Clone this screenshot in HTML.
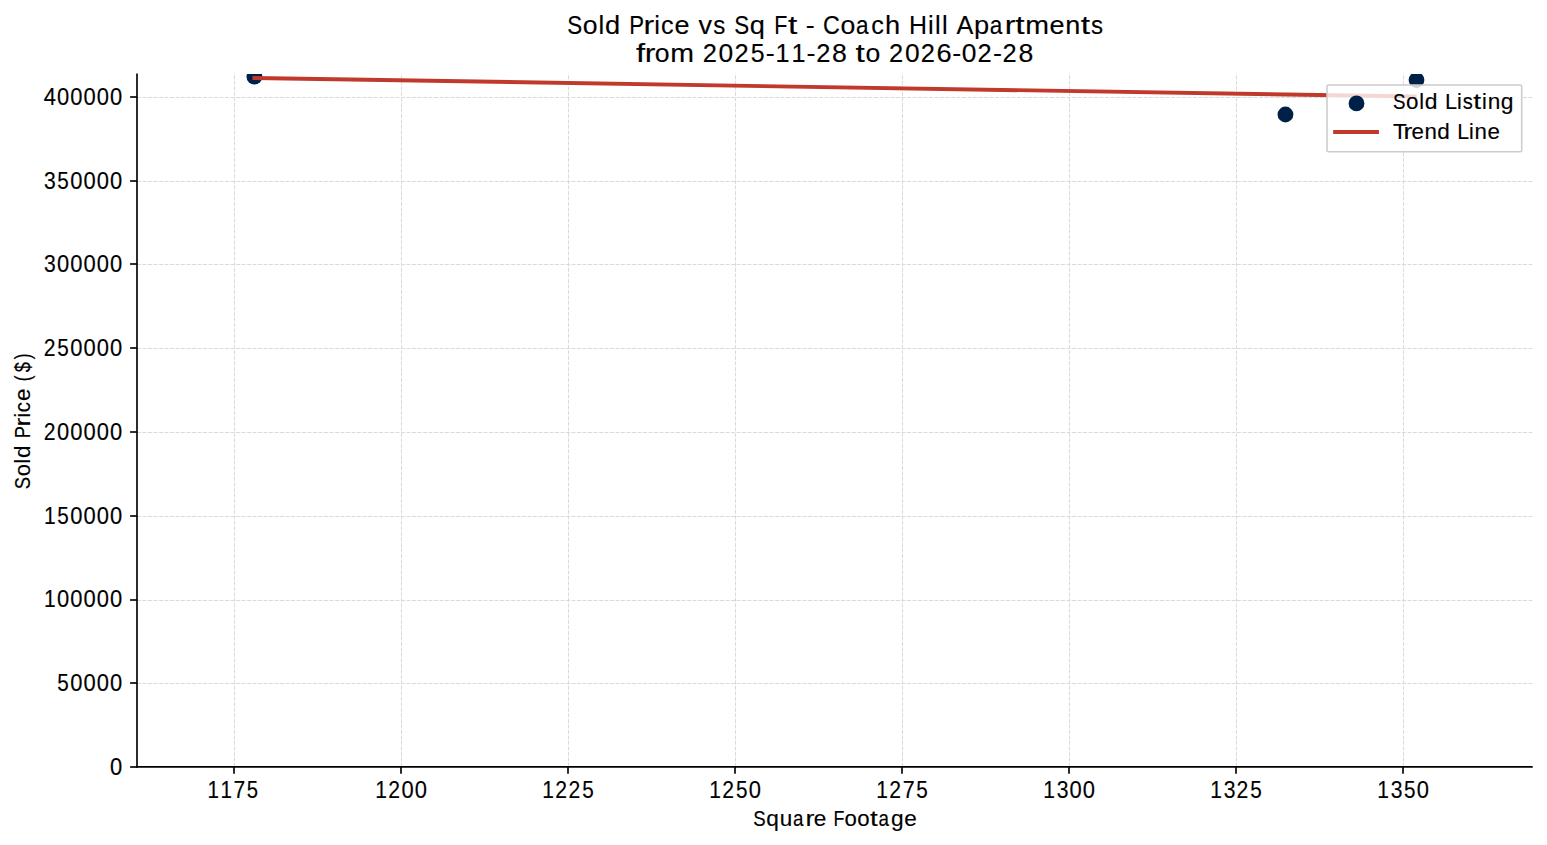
<!DOCTYPE html>
<html><head><meta charset="utf-8"><title>Sold Price vs Sq Ft - Coach Hill Apartments</title>
<style>html,body{margin:0;padding:0;background:#fff;width:1547px;height:845px;overflow:hidden}svg{display:block}text{font-family:"Liberation Sans",sans-serif;font-kerning:none;fill:#000;stroke:#000;stroke-width:0.15px}</style>
</head><body>
<svg width="1547" height="845" viewBox="0 0 1547 845" font-family="'Liberation Sans', sans-serif" style="font-kerning:none"><g stroke="#dadada" stroke-width="1" stroke-dasharray="4 1.5"><line x1="234.50" y1="766.9" x2="234.50" y2="73.4"/><line x1="401.50" y1="766.9" x2="401.50" y2="73.4"/><line x1="568.50" y1="766.9" x2="568.50" y2="73.4"/><line x1="735.50" y1="766.9" x2="735.50" y2="73.4"/><line x1="902.50" y1="766.9" x2="902.50" y2="73.4"/><line x1="1069.50" y1="766.9" x2="1069.50" y2="73.4"/><line x1="1236.50" y1="766.9" x2="1236.50" y2="73.4"/><line x1="1403.50" y1="766.9" x2="1403.50" y2="73.4"/><line x1="137.0" y1="683.50" x2="1532.7" y2="683.50"/><line x1="137.0" y1="600.50" x2="1532.7" y2="600.50"/><line x1="137.0" y1="516.50" x2="1532.7" y2="516.50"/><line x1="137.0" y1="432.50" x2="1532.7" y2="432.50"/><line x1="137.0" y1="348.50" x2="1532.7" y2="348.50"/><line x1="137.0" y1="264.50" x2="1532.7" y2="264.50"/><line x1="137.0" y1="181.50" x2="1532.7" y2="181.50"/><line x1="137.0" y1="97.50" x2="1532.7" y2="97.50"/></g>
<clipPath id="ax"><rect x="137.0" y="73.9" width="1395.7" height="693.0"/></clipPath>
<g clip-path="url(#ax)"><g fill="#002147"><circle cx="254.4" cy="76.7" r="7.9"/><circle cx="1285.45" cy="114.5" r="7.9"/><circle cx="1416.5" cy="80.0" r="7.9"/></g><line x1="254.4" y1="77.97" x2="1414.8" y2="96.54" stroke="#c0392b" stroke-width="3.9" stroke-linecap="square"/></g>
<g stroke="#000" stroke-width="1.65"><line x1="137.0" y1="73.4" x2="137.0" y2="767.6999999999999"/><line x1="136.2" y1="766.9" x2="1532.7" y2="766.9"/><line x1="234.00" y1="766.9" x2="234.00" y2="773.8"/><line x1="401.00" y1="766.9" x2="401.00" y2="773.8"/><line x1="568.00" y1="766.9" x2="568.00" y2="773.8"/><line x1="735.00" y1="766.9" x2="735.00" y2="773.8"/><line x1="902.00" y1="766.9" x2="902.00" y2="773.8"/><line x1="1069.00" y1="766.9" x2="1069.00" y2="773.8"/><line x1="1236.00" y1="766.9" x2="1236.00" y2="773.8"/><line x1="1403.00" y1="766.9" x2="1403.00" y2="773.8"/><line x1="130.1" y1="767.00" x2="137.0" y2="767.00"/><line x1="130.1" y1="683.00" x2="137.0" y2="683.00"/><line x1="130.1" y1="600.00" x2="137.0" y2="600.00"/><line x1="130.1" y1="516.00" x2="137.0" y2="516.00"/><line x1="130.1" y1="432.00" x2="137.0" y2="432.00"/><line x1="130.1" y1="348.00" x2="137.0" y2="348.00"/><line x1="130.1" y1="264.00" x2="137.0" y2="264.00"/><line x1="130.1" y1="181.00" x2="137.0" y2="181.00"/><line x1="130.1" y1="97.00" x2="137.0" y2="97.00"/></g>
<text transform="matrix(0.9326 0 0 1.0700 207.53 798.10)" font-size="22.07">1</text><text transform="matrix(0.9326 0 0 1.0700 220.54 798.10)" font-size="22.07">1</text><text transform="matrix(0.9552 0 0 1.0700 233.47 798.10)" font-size="22.07">7</text><text transform="matrix(0.9216 0 0 1.0700 246.64 798.10)" font-size="22.07">5</text><text transform="matrix(0.9502 0 0 1.0700 375.29 798.10)" font-size="22.07">1</text><text transform="matrix(0.9589 0 0 1.0700 388.31 798.10)" font-size="22.07">2</text><text transform="matrix(0.9948 0 0 1.0700 401.62 798.10)" font-size="22.07">0</text><text transform="matrix(0.9948 0 0 1.0700 414.87 798.10)" font-size="22.07">0</text><text transform="matrix(0.9502 0 0 1.0700 542.29 798.10)" font-size="22.07">1</text><text transform="matrix(0.9589 0 0 1.0700 555.31 798.10)" font-size="22.07">2</text><text transform="matrix(0.9589 0 0 1.0700 568.56 798.10)" font-size="22.07">2</text><text transform="matrix(0.9389 0 0 1.0700 582.13 798.10)" font-size="22.07">5</text><text transform="matrix(0.9502 0 0 1.0700 709.29 798.10)" font-size="22.07">1</text><text transform="matrix(0.9589 0 0 1.0700 722.31 798.10)" font-size="22.07">2</text><text transform="matrix(0.9389 0 0 1.0700 735.88 798.10)" font-size="22.07">5</text><text transform="matrix(0.9948 0 0 1.0700 748.87 798.10)" font-size="22.07">0</text><text transform="matrix(0.9502 0 0 1.0700 876.29 798.10)" font-size="22.07">1</text><text transform="matrix(0.9589 0 0 1.0700 889.31 798.10)" font-size="22.07">2</text><text transform="matrix(0.9731 0 0 1.0700 902.71 798.10)" font-size="22.07">7</text><text transform="matrix(0.9389 0 0 1.0700 916.13 798.10)" font-size="22.07">5</text><text transform="matrix(0.9502 0 0 1.0700 1043.29 798.10)" font-size="22.07">1</text><text transform="matrix(0.9554 0 0 1.0700 1056.63 798.10)" font-size="22.07">3</text><text transform="matrix(0.9948 0 0 1.0700 1069.62 798.10)" font-size="22.07">0</text><text transform="matrix(0.9948 0 0 1.0700 1082.87 798.10)" font-size="22.07">0</text><text transform="matrix(0.9502 0 0 1.0700 1210.29 798.10)" font-size="22.07">1</text><text transform="matrix(0.9554 0 0 1.0700 1223.63 798.10)" font-size="22.07">3</text><text transform="matrix(0.9589 0 0 1.0700 1236.56 798.10)" font-size="22.07">2</text><text transform="matrix(0.9389 0 0 1.0700 1250.13 798.10)" font-size="22.07">5</text><text transform="matrix(0.9502 0 0 1.0700 1377.29 798.10)" font-size="22.07">1</text><text transform="matrix(0.9554 0 0 1.0700 1390.63 798.10)" font-size="22.07">3</text><text transform="matrix(0.9389 0 0 1.0700 1403.88 798.10)" font-size="22.07">5</text><text transform="matrix(0.9948 0 0 1.0700 1416.87 798.10)" font-size="22.07">0</text><text transform="matrix(0.9948 0 0 1.0700 110.05 774.78)" font-size="22.07">0</text><text transform="matrix(0.9389 0 0 1.0700 57.30 691.03)" font-size="22.07">5</text><text transform="matrix(0.9948 0 0 1.0700 70.29 691.03)" font-size="22.07">0</text><text transform="matrix(0.9948 0 0 1.0700 83.54 691.03)" font-size="22.07">0</text><text transform="matrix(0.9948 0 0 1.0700 96.79 691.03)" font-size="22.07">0</text><text transform="matrix(0.9948 0 0 1.0700 110.05 691.03)" font-size="22.07">0</text><text transform="matrix(0.9502 0 0 1.0700 43.96 607.28)" font-size="22.07">1</text><text transform="matrix(0.9948 0 0 1.0700 57.04 607.28)" font-size="22.07">0</text><text transform="matrix(0.9948 0 0 1.0700 70.29 607.28)" font-size="22.07">0</text><text transform="matrix(0.9948 0 0 1.0700 83.54 607.28)" font-size="22.07">0</text><text transform="matrix(0.9948 0 0 1.0700 96.79 607.28)" font-size="22.07">0</text><text transform="matrix(0.9948 0 0 1.0700 110.05 607.28)" font-size="22.07">0</text><text transform="matrix(0.9502 0 0 1.0700 43.96 523.53)" font-size="22.07">1</text><text transform="matrix(0.9389 0 0 1.0700 57.30 523.53)" font-size="22.07">5</text><text transform="matrix(0.9948 0 0 1.0700 70.29 523.53)" font-size="22.07">0</text><text transform="matrix(0.9948 0 0 1.0700 83.54 523.53)" font-size="22.07">0</text><text transform="matrix(0.9948 0 0 1.0700 96.79 523.53)" font-size="22.07">0</text><text transform="matrix(0.9948 0 0 1.0700 110.05 523.53)" font-size="22.07">0</text><text transform="matrix(0.9589 0 0 1.0700 43.73 439.78)" font-size="22.07">2</text><text transform="matrix(0.9948 0 0 1.0700 57.04 439.78)" font-size="22.07">0</text><text transform="matrix(0.9948 0 0 1.0700 70.29 439.78)" font-size="22.07">0</text><text transform="matrix(0.9948 0 0 1.0700 83.54 439.78)" font-size="22.07">0</text><text transform="matrix(0.9948 0 0 1.0700 96.79 439.78)" font-size="22.07">0</text><text transform="matrix(0.9948 0 0 1.0700 110.05 439.78)" font-size="22.07">0</text><text transform="matrix(0.9589 0 0 1.0700 43.73 356.03)" font-size="22.07">2</text><text transform="matrix(0.9389 0 0 1.0700 57.30 356.03)" font-size="22.07">5</text><text transform="matrix(0.9948 0 0 1.0700 70.29 356.03)" font-size="22.07">0</text><text transform="matrix(0.9948 0 0 1.0700 83.54 356.03)" font-size="22.07">0</text><text transform="matrix(0.9948 0 0 1.0700 96.79 356.03)" font-size="22.07">0</text><text transform="matrix(0.9948 0 0 1.0700 110.05 356.03)" font-size="22.07">0</text><text transform="matrix(0.9554 0 0 1.0700 44.05 272.28)" font-size="22.07">3</text><text transform="matrix(0.9948 0 0 1.0700 57.04 272.28)" font-size="22.07">0</text><text transform="matrix(0.9948 0 0 1.0700 70.29 272.28)" font-size="22.07">0</text><text transform="matrix(0.9948 0 0 1.0700 83.54 272.28)" font-size="22.07">0</text><text transform="matrix(0.9948 0 0 1.0700 96.79 272.28)" font-size="22.07">0</text><text transform="matrix(0.9948 0 0 1.0700 110.05 272.28)" font-size="22.07">0</text><text transform="matrix(0.9554 0 0 1.0700 44.05 188.53)" font-size="22.07">3</text><text transform="matrix(0.9389 0 0 1.0700 57.30 188.53)" font-size="22.07">5</text><text transform="matrix(0.9948 0 0 1.0700 70.29 188.53)" font-size="22.07">0</text><text transform="matrix(0.9948 0 0 1.0700 83.54 188.53)" font-size="22.07">0</text><text transform="matrix(0.9948 0 0 1.0700 96.79 188.53)" font-size="22.07">0</text><text transform="matrix(0.9948 0 0 1.0700 110.05 188.53)" font-size="22.07">0</text><text transform="matrix(0.9949 0 0 1.0700 43.78 104.78)" font-size="22.07">4</text><text transform="matrix(0.9948 0 0 1.0700 57.04 104.78)" font-size="22.07">0</text><text transform="matrix(0.9948 0 0 1.0700 70.29 104.78)" font-size="22.07">0</text><text transform="matrix(0.9948 0 0 1.0700 83.54 104.78)" font-size="22.07">0</text><text transform="matrix(0.9948 0 0 1.0700 96.79 104.78)" font-size="22.07">0</text><text transform="matrix(0.9948 0 0 1.0700 110.05 104.78)" font-size="22.07">0</text>
<text transform="matrix(0.8435 0 0 1.0000 753.35 825.70)" font-size="22.07">S</text><text transform="matrix(1.0273 0 0 1.0000 766.28 825.70)" font-size="22.07">q</text><text transform="matrix(1.0202 0 0 1.0000 779.65 825.70)" font-size="22.07">u</text><text transform="matrix(0.8509 0 0 1.0000 793.03 825.70)" font-size="22.07">a</text><text transform="matrix(1.2124 0 0 1.0000 805.49 825.70)" font-size="22.07">r</text><text transform="matrix(1.0221 0 0 1.0000 813.70 825.70)" font-size="22.07">e</text><text transform="matrix(0.8111 0 0 1.0000 833.57 825.70)" font-size="22.07">F</text><text transform="matrix(1.0060 0 0 1.0000 844.48 825.70)" font-size="22.07">o</text><text transform="matrix(1.0060 0 0 1.0000 857.26 825.70)" font-size="22.07">o</text><text transform="matrix(1.2647 0 0 1.0000 869.95 825.70)" font-size="22.07">t</text><text transform="matrix(0.8509 0 0 1.0000 878.46 825.70)" font-size="22.07">a</text><text transform="matrix(1.0285 0 0 1.0000 891.00 825.70)" font-size="22.07">g</text><text transform="matrix(1.0221 0 0 1.0000 904.26 825.70)" font-size="22.07">e</text>
<g transform="rotate(-90 30.3 488.3)"><text transform="matrix(0.8315 0 0 1.0000 29.47 488.30)" font-size="22.07">S</text><text transform="matrix(0.9916 0 0 1.0000 42.23 488.30)" font-size="22.07">o</text><text transform="matrix(0.9535 0 0 1.0000 55.13 488.30)" font-size="22.07">l</text><text transform="matrix(1.0138 0 0 1.0000 60.52 488.30)" font-size="22.07">d</text><text transform="matrix(0.8249 0 0 1.0000 80.47 488.30)" font-size="22.07">P</text><text transform="matrix(1.1951 0 0 1.0000 92.11 488.30)" font-size="22.07">r</text><text transform="matrix(0.9535 0 0 1.0000 100.99 488.30)" font-size="22.07">i</text><text transform="matrix(0.9359 0 0 1.0000 106.44 488.30)" font-size="22.07">c</text><text transform="matrix(1.0075 0 0 1.0000 117.69 488.30)" font-size="22.07">e</text><text transform="matrix(0.7885 0 0 1.0000 137.40 488.30)" font-size="22.07">(</text><text transform="matrix(0.8286 0 0 1.0000 146.25 488.30)" font-size="22.07">$</text><text transform="matrix(0.7885 0 0 1.0000 159.38 488.30)" font-size="22.07">)</text></g>
<text transform="matrix(0.8436 0 0 1.0000 567.19 33.50)" font-size="26.49">S</text><text transform="matrix(1.0061 0 0 1.0000 582.73 33.50)" font-size="26.49">o</text><text transform="matrix(0.9674 0 0 1.0000 598.44 33.50)" font-size="26.49">l</text><text transform="matrix(1.0286 0 0 1.0000 605.00 33.50)" font-size="26.49">d</text><text transform="matrix(0.8370 0 0 1.0000 629.29 33.50)" font-size="26.49">P</text><text transform="matrix(1.2126 0 0 1.0000 643.47 33.50)" font-size="26.49">r</text><text transform="matrix(0.9674 0 0 1.0000 654.28 33.50)" font-size="26.49">i</text><text transform="matrix(0.9496 0 0 1.0000 660.91 33.50)" font-size="26.49">c</text><text transform="matrix(1.0222 0 0 1.0000 674.61 33.50)" font-size="26.49">e</text><text transform="matrix(1.0213 0 0 1.0000 698.43 33.50)" font-size="26.49">v</text><text transform="matrix(0.9072 0 0 1.0000 713.30 33.50)" font-size="26.49">s</text><text transform="matrix(0.8436 0 0 1.0000 734.28 33.50)" font-size="26.49">S</text><text transform="matrix(1.0275 0 0 1.0000 749.79 33.50)" font-size="26.49">q</text><text transform="matrix(0.8112 0 0 1.0000 774.13 33.50)" font-size="26.49">F</text><text transform="matrix(1.2649 0 0 1.0000 788.02 33.50)" font-size="26.49">t</text><text transform="matrix(1.0202 0 0 1.0000 805.68 33.50)" font-size="26.49">-</text><text transform="matrix(0.8785 0 0 1.0000 822.90 33.50)" font-size="26.49">C</text><text transform="matrix(1.0061 0 0 1.0000 840.44 33.50)" font-size="26.49">o</text><text transform="matrix(0.8510 0 0 1.0000 856.06 33.50)" font-size="26.49">a</text><text transform="matrix(0.9496 0 0 1.0000 871.19 33.50)" font-size="26.49">c</text><text transform="matrix(1.0274 0 0 1.0000 885.05 33.50)" font-size="26.49">h</text><text transform="matrix(0.9414 0 0 1.0000 908.93 33.50)" font-size="26.49">H</text><text transform="matrix(0.9674 0 0 1.0000 928.02 33.50)" font-size="26.49">i</text><text transform="matrix(0.9674 0 0 1.0000 934.97 33.50)" font-size="26.49">l</text><text transform="matrix(0.9674 0 0 1.0000 941.94 33.50)" font-size="26.49">l</text><text transform="matrix(0.9534 0 0 1.0000 956.38 33.50)" font-size="26.49">A</text><text transform="matrix(1.0296 0 0 1.0000 973.90 33.50)" font-size="26.49">p</text><text transform="matrix(0.8510 0 0 1.0000 989.85 33.50)" font-size="26.49">a</text><text transform="matrix(1.2126 0 0 1.0000 1004.81 33.50)" font-size="26.49">r</text><text transform="matrix(1.2649 0 0 1.0000 1015.13 33.50)" font-size="26.49">t</text><text transform="matrix(1.0783 0 0 1.0000 1025.18 33.50)" font-size="26.49">m</text><text transform="matrix(1.0222 0 0 1.0000 1049.45 33.50)" font-size="26.49">e</text><text transform="matrix(1.0204 0 0 1.0000 1065.13 33.50)" font-size="26.49">n</text><text transform="matrix(1.2649 0 0 1.0000 1080.70 33.50)" font-size="26.49">t</text><text transform="matrix(0.9072 0 0 1.0000 1091.05 33.50)" font-size="26.49">s</text>
<text transform="matrix(1.2398 0 0 1.0000 636.03 61.50)" font-size="26.49">f</text><text transform="matrix(1.2097 0 0 1.0000 644.87 61.50)" font-size="26.49">r</text><text transform="matrix(1.0038 0 0 1.0000 654.73 61.50)" font-size="26.49">o</text><text transform="matrix(1.0758 0 0 1.0000 670.15 61.50)" font-size="26.49">m</text><text transform="matrix(0.9594 0 0 1.0000 702.64 61.50)" font-size="26.49">2</text><text transform="matrix(0.9953 0 0 1.0000 718.62 61.50)" font-size="26.49">0</text><text transform="matrix(0.9594 0 0 1.0000 734.46 61.50)" font-size="26.49">2</text><text transform="matrix(0.9393 0 0 1.0000 750.76 61.50)" font-size="26.49">5</text><text transform="matrix(1.0178 0 0 1.0000 765.76 61.50)" font-size="26.49">-</text><text transform="matrix(0.9506 0 0 1.0000 775.59 61.50)" font-size="26.49">1</text><text transform="matrix(0.9506 0 0 1.0000 791.51 61.50)" font-size="26.49">1</text><text transform="matrix(1.0178 0 0 1.0000 806.61 61.50)" font-size="26.49">-</text><text transform="matrix(0.9594 0 0 1.0000 816.17 61.50)" font-size="26.49">2</text><text transform="matrix(1.0061 0 0 1.0000 832.07 61.50)" font-size="26.49">8</text><text transform="matrix(1.2619 0 0 1.0000 855.56 61.50)" font-size="26.49">t</text><text transform="matrix(1.0038 0 0 1.0000 865.46 61.50)" font-size="26.49">o</text><text transform="matrix(0.9594 0 0 1.0000 889.01 61.50)" font-size="26.49">2</text><text transform="matrix(0.9953 0 0 1.0000 904.98 61.50)" font-size="26.49">0</text><text transform="matrix(0.9594 0 0 1.0000 920.83 61.50)" font-size="26.49">2</text><text transform="matrix(1.0301 0 0 1.0000 936.55 61.50)" font-size="26.49">6</text><text transform="matrix(1.0178 0 0 1.0000 952.13 61.50)" font-size="26.49">-</text><text transform="matrix(0.9953 0 0 1.0000 961.75 61.50)" font-size="26.49">0</text><text transform="matrix(0.9594 0 0 1.0000 977.60 61.50)" font-size="26.49">2</text><text transform="matrix(1.0178 0 0 1.0000 992.98 61.50)" font-size="26.49">-</text><text transform="matrix(0.9594 0 0 1.0000 1002.54 61.50)" font-size="26.49">2</text><text transform="matrix(1.0061 0 0 1.0000 1018.44 61.50)" font-size="26.49">8</text>
<rect x="1327.0" y="84.9" width="194.7" height="66.8" rx="1.3" ry="1.3" fill="#fff" fill-opacity="0.8" stroke="#cccccc" stroke-width="1.55"/>
<circle cx="1356.5" cy="103.4" r="7.9" fill="#002147"/>
<line x1="1335.1" y1="132.0" x2="1377.0" y2="132.0" stroke="#c0392b" stroke-width="3.9" stroke-linecap="square"/>
<text transform="matrix(0.8502 0 0 1.0000 1393.05 108.70)" font-size="22.07">S</text><text transform="matrix(1.0139 0 0 1.0000 1406.10 108.70)" font-size="22.07">o</text><text transform="matrix(0.9750 0 0 1.0000 1419.29 108.70)" font-size="22.07">l</text><text transform="matrix(1.0366 0 0 1.0000 1424.80 108.70)" font-size="22.07">d</text><text transform="matrix(0.9812 0 0 1.0000 1444.95 108.70)" font-size="22.07">L</text><text transform="matrix(0.9750 0 0 1.0000 1456.93 108.70)" font-size="22.07">i</text><text transform="matrix(0.9143 0 0 1.0000 1462.82 108.70)" font-size="22.07">s</text><text transform="matrix(1.2747 0 0 1.0000 1473.34 108.70)" font-size="22.07">t</text><text transform="matrix(0.9750 0 0 1.0000 1482.00 108.70)" font-size="22.07">i</text><text transform="matrix(1.0283 0 0 1.0000 1487.71 108.70)" font-size="22.07">n</text><text transform="matrix(1.0366 0 0 1.0000 1500.85 108.70)" font-size="22.07">g</text>
<text transform="matrix(1.0226 0 0 1.0000 1393.09 138.60)" font-size="22.07">T</text><text transform="matrix(1.2013 0 0 1.0000 1403.38 138.60)" font-size="22.07">r</text><text transform="matrix(1.0127 0 0 1.0000 1411.51 138.60)" font-size="22.07">e</text><text transform="matrix(1.0109 0 0 1.0000 1424.44 138.60)" font-size="22.07">n</text><text transform="matrix(1.0190 0 0 1.0000 1437.36 138.60)" font-size="22.07">d</text><text transform="matrix(0.9646 0 0 1.0000 1457.16 138.60)" font-size="22.07">L</text><text transform="matrix(0.9584 0 0 1.0000 1468.94 138.60)" font-size="22.07">i</text><text transform="matrix(1.0109 0 0 1.0000 1474.55 138.60)" font-size="22.07">n</text><text transform="matrix(1.0127 0 0 1.0000 1487.46 138.60)" font-size="22.07">e</text></svg>
</body></html>
